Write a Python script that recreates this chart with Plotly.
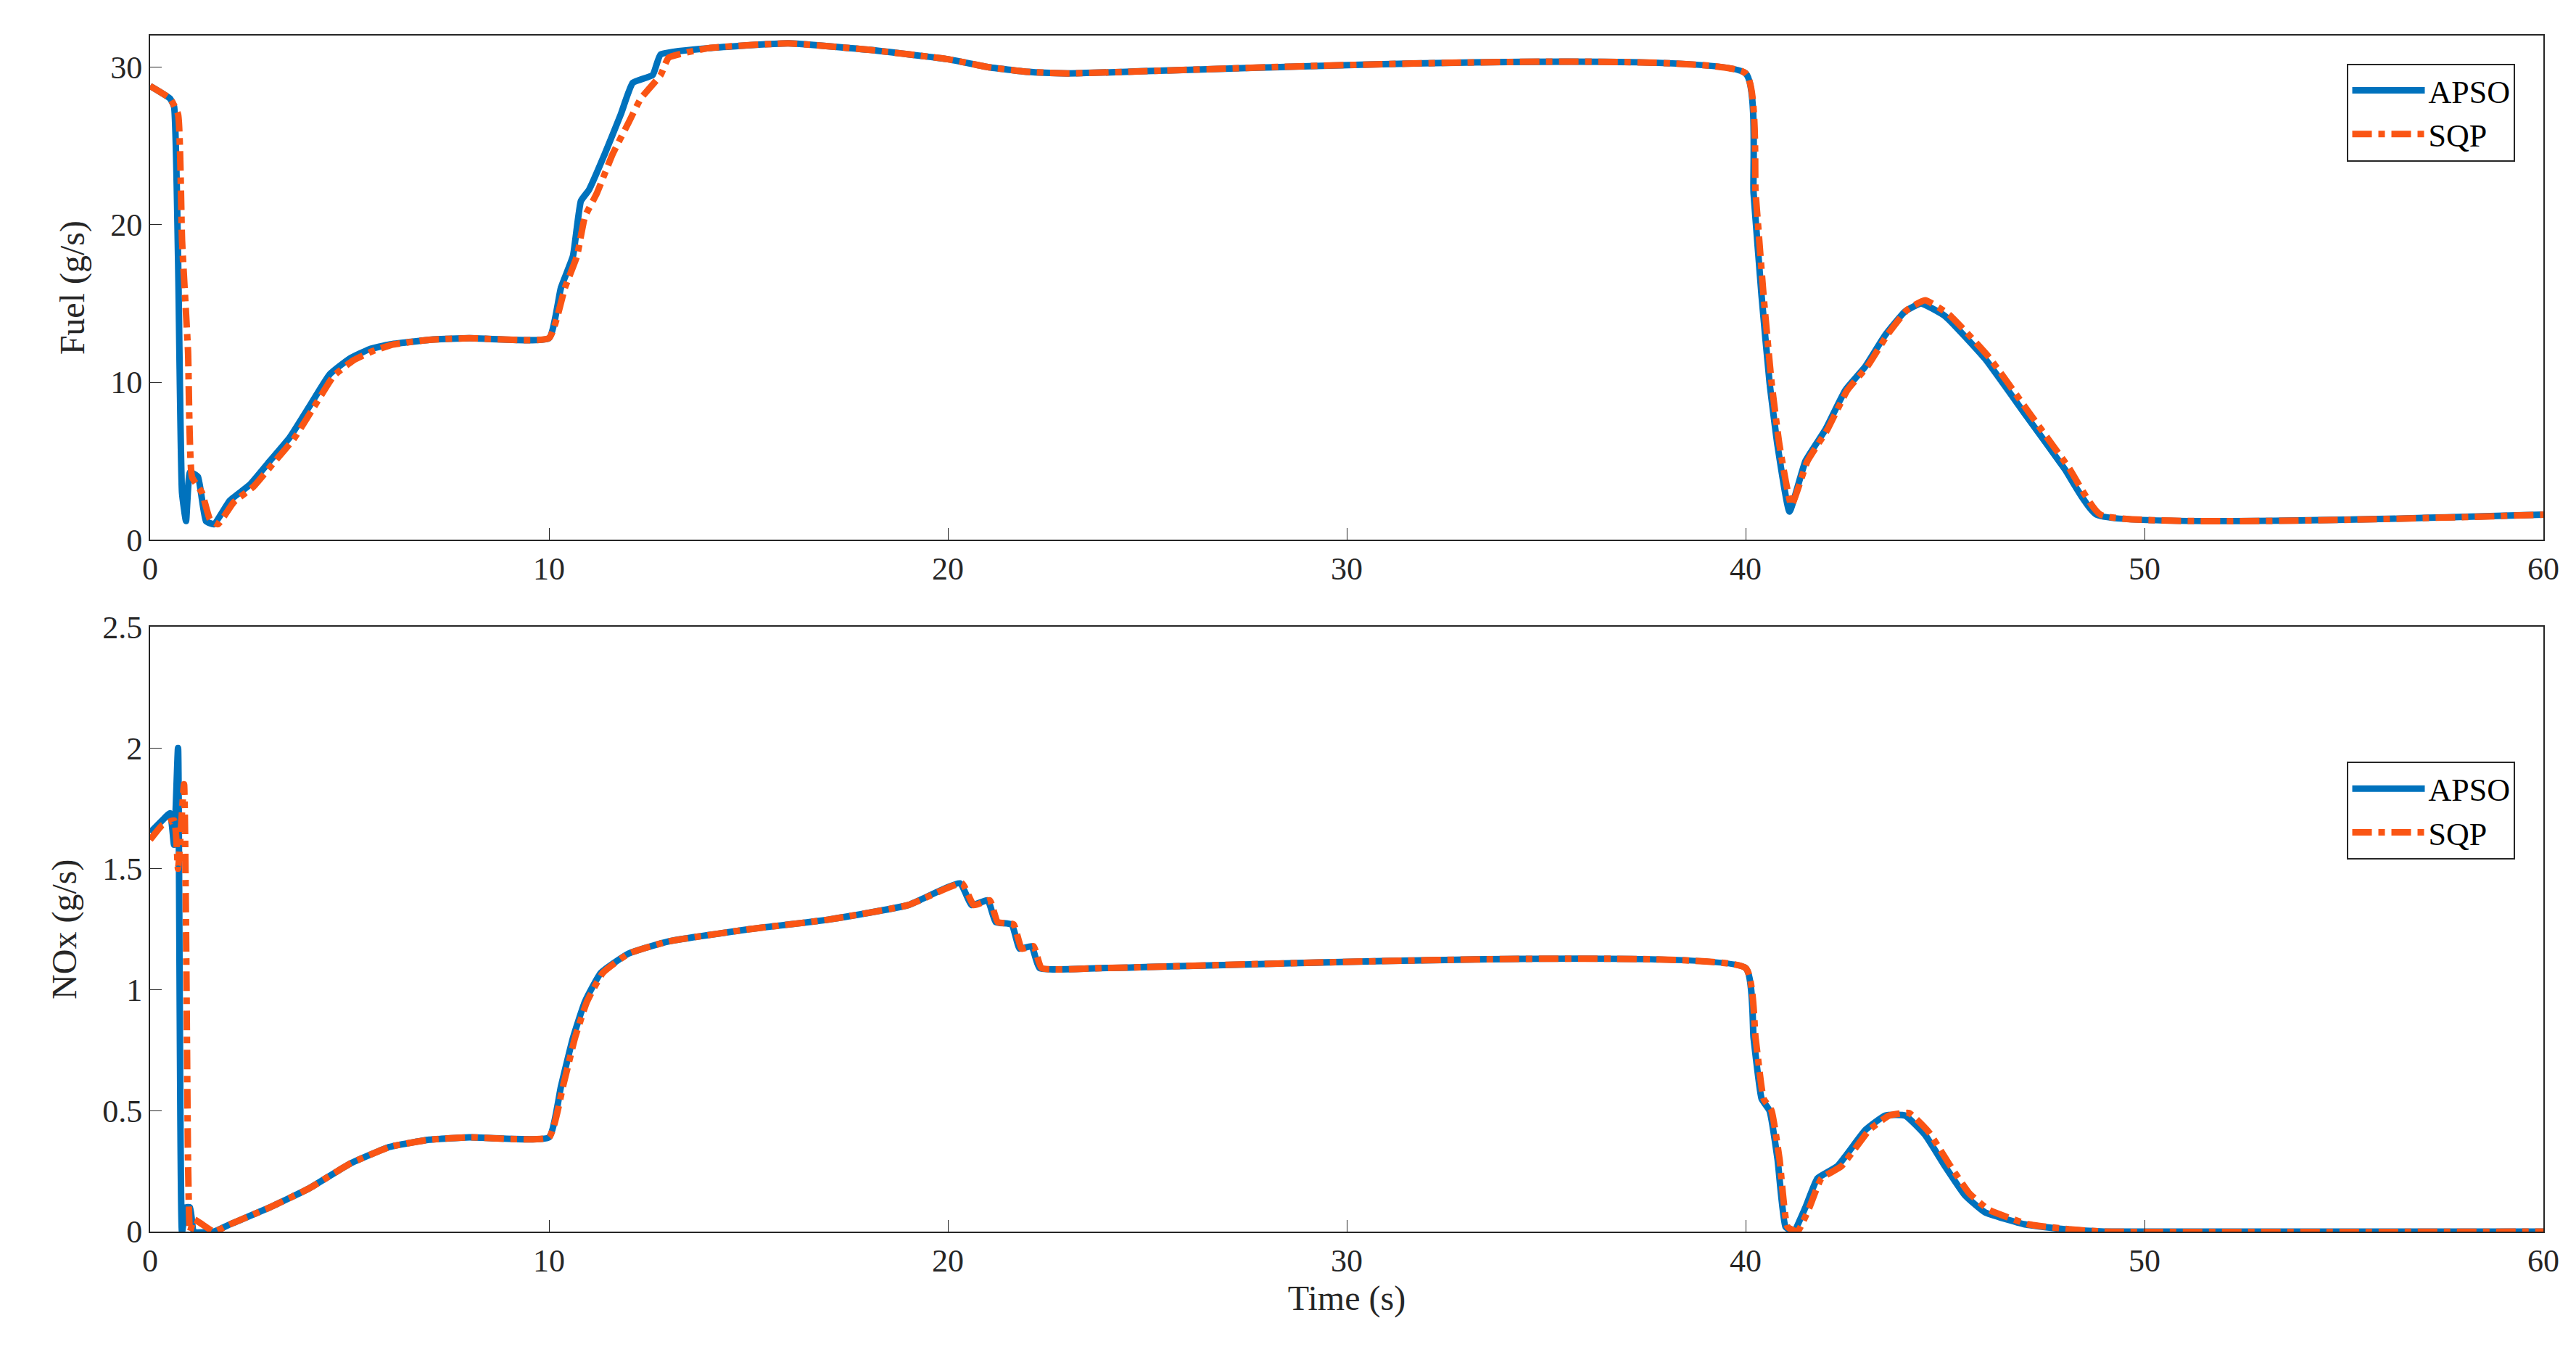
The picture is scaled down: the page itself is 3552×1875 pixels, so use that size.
import plotly.graph_objects as go

t_fuel_apso = [0,0.5,0.6,0.7,0.8,0.9,1.0,1.2,1.4,1.6,2,2.5,3,3.5,4,4.5,5,5.5,6,7,8,10,10.3,10.6,10.8,11,11.4,11.8,12.1,12.6,12.8,14,16,18,20,21,22,23,40,40.2,40.4,40.6,40.8,41.1,41.5,42,42.5,43,43.5,44,44.4,45,46,47,48,48.8,60]
fuel_apso = [28.8,28,27.5,18,3,1.2,4.3,4,1.2,1,2.5,3.5,5,6.5,8.5,10.5,11.5,12.1,12.4,12.7,12.8,12.8,16,18,21.5,22.2,24.5,27,29,29.5,30.8,31.2,31.5,31.1,30.5,30,29.7,29.6,29.6,22,15.5,10,6,1.8,5,7,9.5,11,13,14.5,15,14.2,11.5,8,4.5,1.6,1.6]
t_fuel_sqp = [0,0.5,0.7,0.8,0.95,1.05,1.3,1.5,1.7,2.1,2.6,3.1,3.6,4.1,4.6,5.1,5.6,6.1,7,8,10,10.4,10.7,10.9,11.2,11.6,12,12.3,12.8,13,14,16,18,20,21,22,23,40,40.25,40.45,40.65,40.85,41.15,41.55,42.05,42.55,43.05,43.55,44.05,44.5,45.1,46.1,47.1,48.1,48.9,60]
fuel_sqp = [28.8,28,27,19,12,4,3,1.3,1,2.4,3.4,4.9,6.4,8.4,10.4,11.4,12,12.4,12.7,12.8,12.8,16,18,20.5,22,24.5,26.5,28,29.5,30.6,31.2,31.5,31.1,30.5,30,29.7,29.6,29.6,22,15.5,10,6,2.2,5,7,9.5,11,13,14.6,15.2,14.3,11.6,8.1,4.6,1.6,1.6]

t_nox_apso = [0,0.3,0.5,0.6,0.7,0.8,0.9,1.0,1.1,1.6,2,3,4,5,6,7,8,10,10.3,10.6,10.9,11.3,12,13,15,17,19,20.3,20.6,21,21.2,21.6,21.8,22.1,22.3,24,40,40.2,40.4,40.6,40.8,41,41.2,41.5,41.8,42.3,43,43.5,44,44.5,45,45.5,46,47,48,49,60]
nox_apso = [1.65,1.7,1.73,1.6,2.0,0,0.1,0.1,0,0,0.03,0.1,0.18,0.28,0.35,0.38,0.39,0.39,0.6,0.8,0.95,1.07,1.15,1.2,1.25,1.29,1.35,1.44,1.35,1.37,1.28,1.27,1.17,1.18,1.09,1.09,1.09,0.8,0.55,0.5,0.3,0.02,0,0.1,0.22,0.27,0.42,0.48,0.48,0.4,0.27,0.15,0.08,0.03,0.01,0,0]
t_nox_sqp = [0,0.3,0.6,0.7,0.85,0.95,1.0,1.1,1.6,2,3,4,5,6,7,8,10,10.35,10.65,10.95,11.35,12,13,15,17,19,20.35,20.65,21.05,21.25,21.65,21.85,22.15,22.35,24,40,40.25,40.45,40.65,40.85,41.05,41.3,41.6,41.9,42.4,43.1,43.6,44.1,44.6,45.1,45.6,46.1,47.1,48.1,49,60]
nox_sqp = [1.62,1.68,1.7,1.5,1.85,0.3,0,0.05,0,0.03,0.1,0.18,0.28,0.35,0.38,0.39,0.39,0.6,0.8,0.95,1.07,1.15,1.2,1.25,1.29,1.35,1.44,1.35,1.37,1.28,1.27,1.17,1.18,1.09,1.09,1.09,0.8,0.55,0.5,0.3,0.02,0,0.1,0.22,0.27,0.42,0.48,0.49,0.41,0.28,0.16,0.09,0.03,0.01,0,0]

BLUE = "#0072BD"
ORANGE = "#FA5514"
FONT = "Liberation Serif"

fig = go.Figure()
fig.add_trace(go.Scatter(x=t_fuel_apso, y=fuel_apso, name="APSO", mode="lines",
                         line=dict(color=BLUE, width=9, shape="spline", smoothing=0.4), xaxis="x", yaxis="y", legend="legend"))
fig.add_trace(go.Scatter(x=t_fuel_sqp, y=fuel_sqp, name="SQP", mode="lines",
                         line=dict(color=ORANGE, width=9, dash="dashdot", shape="spline", smoothing=0.4), xaxis="x", yaxis="y", legend="legend"))
fig.add_trace(go.Scatter(x=t_nox_apso, y=nox_apso, name="APSO", mode="lines",
                         line=dict(color=BLUE, width=9, shape="spline", smoothing=0.4), xaxis="x2", yaxis="y2", legend="legend2"))
fig.add_trace(go.Scatter(x=t_nox_sqp, y=nox_sqp, name="SQP", mode="lines",
                         line=dict(color=ORANGE, width=9, dash="dashdot", shape="spline", smoothing=0.4), xaxis="x2", yaxis="y2", legend="legend2"))

W, H = 3552, 1875
S = 2.265
L, R = 88 * S, 1545 * S
T1, B1 = 18 * S, 325 * S
T2, B2 = 378 * S, 746 * S
ph = B2 - T1

ax = dict(showline=True, linecolor="#262626", linewidth=2, mirror=True, ticks="inside",
          ticklen=16, tickcolor="#262626", showgrid=False, zeroline=False,
          tickfont=dict(family=FONT, size=44, color="#262626"))
leg = dict(font=dict(family=FONT, size=44, color="black"), bordercolor="#262626", borderwidth=2,
           bgcolor="white", xanchor="right", yanchor="top", tracegroupgap=0, itemwidth=100)
tf = dict(family=FONT, size=48, color="#262626")

fig.update_layout(
    width=W, height=H, plot_bgcolor="white", paper_bgcolor="white",
    margin=dict(l=L, r=W - R, t=T1, b=H - B2),
    xaxis=dict(ax, domain=[0, 1], range=[0, 60], dtick=10, anchor="y"),
    yaxis=dict(ax, domain=[(B2 - B1) / ph, 1], range=[0, 32], tickvals=[0, 10, 20, 30], anchor="x",
               title=dict(text="Fuel (g/s)", font=tf, standoff=20)),
    xaxis2=dict(ax, domain=[0, 1], range=[0, 60], dtick=10, anchor="y2",
                title=dict(text="Time (s)", font=tf, standoff=8)),
    yaxis2=dict(ax, domain=[0, (B2 - T2) / ph], range=[0, 2.5], dtick=0.5, anchor="x2",
                title=dict(text="NOx (g/s)", font=tf, standoff=20)),
    legend=dict(leg, x=(1528 * S - L) / (R - L), y=1 - (35 * S - T1) / ph),
    legend2=dict(leg, x=(1528 * S - L) / (R - L), y=1 - (460 * S - T1) / ph),
)
fig.write_html("out.html")
